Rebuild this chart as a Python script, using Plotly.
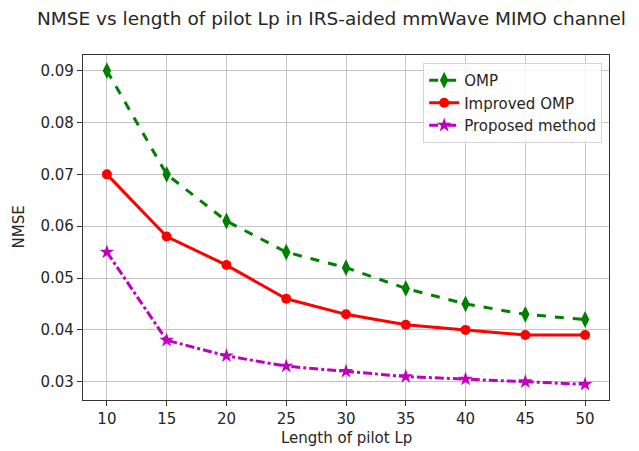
import plotly.graph_objects as go

lp = [10, 15, 20, 25, 30, 35, 40, 45, 50]
omp = [0.090, 0.070, 0.061, 0.055, 0.052, 0.048, 0.045, 0.043, 0.042]
improved_omp = [0.070, 0.058, 0.0525, 0.046, 0.043, 0.041, 0.040, 0.039, 0.039]
proposed = [0.055, 0.038, 0.035, 0.033, 0.032, 0.031, 0.0305, 0.030, 0.0295]

x_ticks = [10, 15, 20, 25, 30, 35, 40, 45, 50]
y_ticks = [0.03, 0.04, 0.05, 0.06, 0.07, 0.08, 0.09]

font = "DejaVu Sans"
txt = "#262626"
fig = go.Figure()
fig.add_trace(go.Scatter(x=lp, y=omp, name="OMP", mode="lines+markers",
                         line=dict(color="#008000", width=3, dash="dash"),
                         marker=dict(symbol="diamond-tall", size=12, color="#008000")))
fig.add_trace(go.Scatter(x=lp, y=improved_omp, name="Improved OMP", mode="lines+markers",
                         line=dict(color="#ff0000", width=3),
                         marker=dict(symbol="circle", size=10, color="#ff0000")))
fig.add_trace(go.Scatter(x=lp, y=proposed, name="Proposed method", mode="lines+markers",
                         line=dict(color="#bf00bf", width=3, dash="dashdot"),
                         marker=dict(symbol="star", size=11, color="#bf00bf")))

axis_common = dict(showgrid=True, gridcolor="#c4c4c4", gridwidth=1.2,
                   showline=True, linecolor="#333333", linewidth=1.2, mirror=True,
                   ticks="outside", ticklen=5, tickcolor="#333333", zeroline=False,
                   automargin=False,
                   tickfont=dict(family=font, size=15, color=txt))

fig.update_xaxes(range=[8, 52], tickvals=x_ticks, **axis_common)
fig.update_yaxes(range=[0.026475, 0.093025], tickvals=y_ticks, tickformat=".2f", **axis_common)

fig.add_annotation(text="Length of pilot Lp", xref="paper", yref="paper",
                   x=0.5, y=(400 - 438) / 345, xanchor="center", yanchor="middle",
                   showarrow=False, font=dict(family=font, size=15, color=txt))
fig.add_annotation(text="NMSE", xref="paper", yref="paper", textangle=-90,
                   x=(18 - 83) / 526, y=0.5, xanchor="center", yanchor="middle",
                   showarrow=False, font=dict(family=font, size=15, color=txt))

fig.update_layout(
    width=639, height=451,
    margin=dict(l=83, r=30, t=55, b=51),
    paper_bgcolor="white", plot_bgcolor="white",
    title=dict(text="NMSE vs length of pilot Lp in IRS-aided mmWave MIMO channel",
               font=dict(family=font, size=18.5, color=txt),
               xref="container", x=331.5 / 639, xanchor="center", yref="container", y=1 - 19 / 451, yanchor="middle"),
    legend=dict(x=0.987, y=0.977, xanchor="right", yanchor="top",
                bgcolor="rgba(255,255,255,0.8)", bordercolor="#d5d5d5", borderwidth=1,
                font=dict(family=font, size=15, color=txt), tracegroupgap=0),
    showlegend=True,
)

fig.write_html("out.html")
